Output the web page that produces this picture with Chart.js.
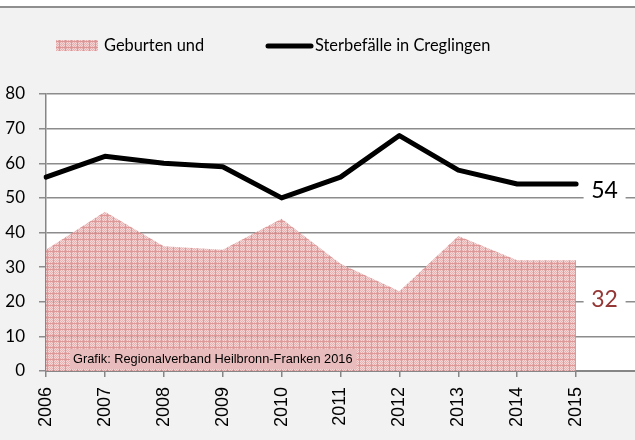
<!DOCTYPE html>
<html><head><meta charset="utf-8">
<script src="https://cdn.jsdelivr.net/npm/chart.js@4.4.0/dist/chart.umd.min.js"></script>
<style>html,body{margin:0;padding:0;background:#fff;} canvas{display:block;}</style>
</head><body>
<canvas id="c" width="635" height="440"></canvas>
<script>
// ---- data ----
const years = ['2006','2007','2008','2009','2010','2011','2012','2013','2014','2015'];
const births = [35, 46, 36, 35, 44, 31, 23, 39, 32, 32];
const deaths = [56, 62, 60, 59, 50, 56, 68, 58, 54, 54];
const yTickValues = [0, 10, 20, 30, 40, 50, 60, 70, 80];
const seriesLabels = ['Geburten und', 'Sterbefälle in Creglingen'];
const creditText = 'Grafik: Regionalverband Heilbronn-Franken 2016';

const canvas = document.getElementById('c');
const mainCtx = canvas.getContext('2d');

function makePattern() {
  const t = document.createElement('canvas');
  t.width = 6; t.height = 6;
  const g = t.getContext('2d');
  for (let y = 0; y < 6; y++) for (let x = 0; x < 6; x++) {
    let c;
    if (x === 5 || y === 5) c = 'rgba(216,134,134,0.85)';
    else if ((x + y) % 2 === 0) c = 'rgba(228,164,164,0.85)';
    else c = 'rgba(245,208,208,0.85)';
    g.fillStyle = c; g.fillRect(x, y, 1, 1);
  }
  return mainCtx.createPattern(t, 'repeat');
}
const pinkPattern = makePattern();

const GRID = '#8c8c8c';

const decor = {
  id: 'decor',
  beforeDraw(chart) {
    const ctx = chart.ctx, a = chart.chartArea;
    ctx.save();
    ctx.fillStyle = '#ffffff'; ctx.fillRect(0, 0, chart.width, chart.height);
    ctx.fillStyle = '#f2f2f2'; ctx.fillRect(0, 8, chart.width, chart.height - 8);
    ctx.fillStyle = '#8f8f8f'; ctx.fillRect(0, 6, chart.width, 2);
    ctx.fillStyle = '#ffffff'; ctx.fillRect(a.left, a.top, a.right - a.left, a.bottom - a.top);
    ctx.restore();
  },
  afterDraw(chart) {
    const ctx = chart.ctx;
    ctx.save();
    // credit box
    ctx.font = '12.8px "Liberation Sans", Arial, sans-serif';
    const cw = ctx.measureText(creditText).width;
    ctx.fillStyle = '#e8bcbc';
    ctx.fillRect(70, 349, cw + 7, 20);
    ctx.fillStyle = '#000';
    ctx.textBaseline = 'middle'; ctx.textAlign = 'left';
    ctx.fillText(creditText, 73, 359);

    // end labels
    const lineMeta = chart.getDatasetMeta(0);
    const areaMeta = chart.getDatasetMeta(1);
    const lp = lineMeta.data[lineMeta.data.length - 1];
    const ap = areaMeta.data[areaMeta.data.length - 1];
    ctx.font = '23px Lato, "Open Sans", sans-serif';
    ctx.textAlign = 'center';
    const drawLbl = (txt, x, y, col) => {
      ctx.fillStyle = '#ffffff';
      ctx.fillRect(x - 21, y - 11, 42, 22);
      ctx.fillStyle = col;
      ctx.fillText(txt, x, y);
    };
    drawLbl(String(deaths[deaths.length - 1]), lp.x + 28.5, lp.y + 6.5, '#000000');
    drawLbl(String(births[births.length - 1]), ap.x + 28.5, ap.y + 39.5, '#953735');

    // legend
    ctx.font = '16.4px Lato, "Open Sans", sans-serif';
    ctx.textAlign = 'left';
    ctx.fillStyle = pinkPattern;
    ctx.fillRect(56, 40, 42, 11);
    ctx.fillStyle = '#000';
    ctx.fillText(seriesLabels[0], 104, 46);
    ctx.strokeStyle = '#000'; ctx.lineWidth = 5; ctx.lineCap = 'round';
    ctx.beginPath(); ctx.moveTo(268, 46); ctx.lineTo(311, 46); ctx.stroke();
    ctx.fillText(seriesLabels[1], 315, 46);
    ctx.restore();
  }
};

new Chart(canvas, {
  type: 'line',
  data: {
    labels: years.concat(['']),
    datasets: [
      {
        label: seriesLabels[1], data: deaths, order: 1,
        borderColor: '#000', borderWidth: 5, pointRadius: 0, fill: false,
        tension: 0, borderCapStyle: 'round', borderJoinStyle: 'round'
      },
      {
        label: seriesLabels[0], data: births, order: 2,
        borderWidth: 0, borderColor: 'rgba(0,0,0,0)', backgroundColor: pinkPattern,
        pointRadius: 0, fill: 'origin', tension: 0
      }
    ]
  },
  options: {
    responsive: false, animation: false, devicePixelRatio: 1,
    layout: { padding: { top: 94, left: 0, right: 0, bottom: 0 } },
    plugins: { legend: { display: false }, tooltip: { enabled: false } },
    scales: {
      x: {
        type: 'category', offset: false,
        grid: { drawOnChartArea: false, drawTicks: true, tickLength: 6, lineWidth: 1.5,
                color: (c) => c.index === years.length ? 'rgba(0,0,0,0)' : '#868686' },
        border: { display: true, color: '#868686', width: 2 },
        ticks: { minRotation: 90, maxRotation: 90, autoSkip: false, padding: 10, color: '#000',
                 font: { family: '"Liberation Sans", Arial, sans-serif', size: 18 } },
        afterFit(s) { s.height = 69; s.paddingLeft = 0; s.paddingRight = 0; }
      },
      y: {
        min: 0, max: 80,
        afterBuildTicks(s) { s.ticks = yTickValues.map(v => ({ value: v })); },
        grid: { color: GRID, lineWidth: 1.5, tickLength: 7 },
        border: { display: true, color: '#868686', width: 1.5 },
        ticks: { padding: 14, color: '#000', font: { family: 'Lato, "Open Sans", sans-serif', size: 17 } },
        afterFit(s) { s.width = 46; s.paddingTop = 0; s.paddingBottom = 0; }
      }
    }
  },
  plugins: [decor]
});
</script>
</body></html>
